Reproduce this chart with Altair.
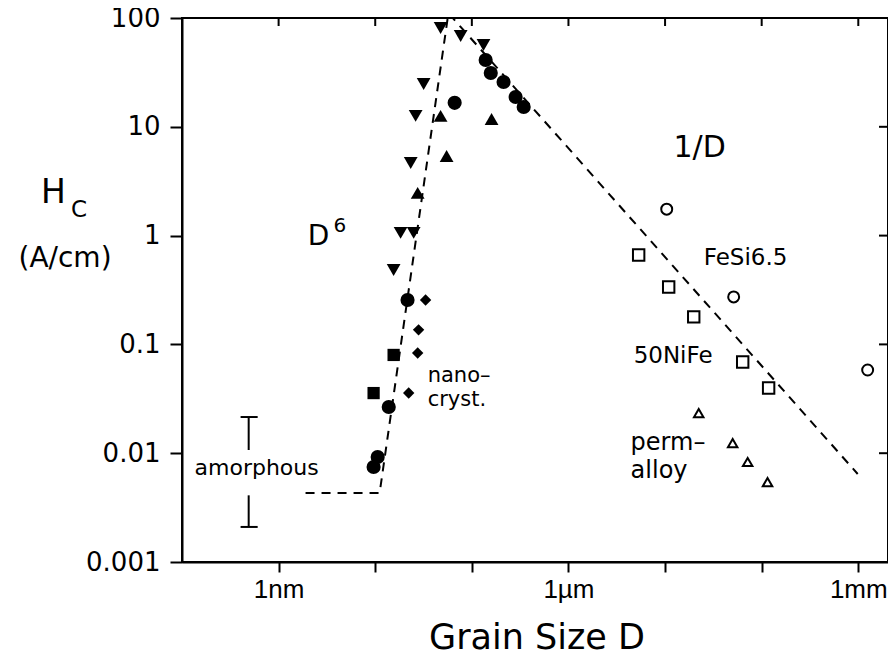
import altair as alt
import pandas as pd

# ---------------- data (grain size D in nm, coercivity Hc in A/cm) ----------------
tri_down_D = [47.5, 76.6, 132, 31.7, 26.2, 23.3, 18.3, 25.0, 15.5]
tri_down_H = [80.9, 68.4, 56.5, 24.7, 12.6, 4.65, 1.06, 1.06, 0.483]

circle_D = [139, 157, 213, 284, 344, 66.4, 21.6, 13.8, 10.6, 9.62]
circle_H = [41.1, 31.2, 25.8, 18.8, 15.2, 16.6, 0.256, 0.0266, 0.00923, 0.00746]

tri_up_D = [47.5, 160, 54.8, 27.5]
tri_up_H = [12.6, 11.8, 5.4, 2.47]

square_D = [15.5, 9.62]
square_H = [0.080, 0.0357]

diamond_D = [33.2, 28.1, 27.5, 22.2]
diamond_H = [0.256, 0.136, 0.0834, 0.0357]

fesi_D = [10400, 51300, 1.25e6]
fesi_H = [1.75, 0.273, 0.0582]

nife_D = [5330, 10900, 19800, 63600, 118000]
nife_H = [0.664, 0.337, 0.179, 0.0689, 0.0397]

perm_D = [22300, 50100, 71600, 115000]
perm_H = [0.0234, 0.0124, 0.0083, 0.00543]

trend_D = [1.9, 11.1, 57.2, 986000]
trend_H = [0.0043, 0.0043, 111, 0.00644]

errbar_D = [0.49]
errbar_top = [0.0215, 0.0107]
errbar_bot = [0.0041, 0.0021]
cap_D = [0.404, 0.607]

x_tick_values = [1, 10, 100, 1e3, 1e4, 1e5, 1e6]
y_tick_values = [0.001, 0.01, 0.1, 1, 10, 100]
right_tick_values = [10, 1, 0.1, 0.01]

# annotations inside the plot: text, D, Hc
ann_left_text = ["FeSi6.5", "50NiFe", "perm\u2013", "alloy", "nano\u2013", "cryst.", "D"]
ann_left_D = [25100, 4730, 4400, 4400, 34.9, 34.9, 2.0]
ann_left_H = [0.537, 0.0675, 0.01069, 0.00592, 0.0450, 0.0274, 0.82]

# ---------------- layout ----------------
W, H = 706, 544
FONT = "DejaVu Sans"

xscale = alt.Scale(type="log", domain=[0.1, 2.03e6], nice=False)
yscale = alt.Scale(type="log", domain=[0.001, 100], nice=False)

xaxis = alt.Axis(
    values=x_tick_values,
    labelExpr="datum.value == 1 ? '1nm' : datum.value == 1000 ? '1\u00b5m' : datum.value == 1000000 ? '1mm' : ''",
    tickSize=10, tickWidth=2, tickColor="black",
    domainWidth=2, domainColor="black",
    labelFont="Liberation Sans", labelFontSize=26, labelColor="black", labelPadding=4,
    labelOverlap=False, labelFlush=False, grid=False, title=None,
)
yaxis = alt.Axis(
    values=y_tick_values, format="~g",
    tickSize=12, tickWidth=2, tickColor="black",
    domainWidth=2, domainColor="black",
    labelFont=FONT, labelFontSize=26, labelColor="black", labelPadding=10,
    labelOverlap=False, labelFlush=False, grid=False, title=None,
)


def X(field="D"):
    return alt.X(f"{field}:Q", scale=xscale, axis=xaxis)


def Y(field="H"):
    return alt.Y(f"{field}:Q", scale=yscale, axis=yaxis)


def pts(D, Hs, shape, filled, size, sw=0):
    df = pd.DataFrame({"D": D, "H": Hs})
    if filled:
        m = alt.Chart(df).mark_point(shape=shape, filled=True, fill="black",
                                     stroke="black", strokeWidth=sw, size=size, opacity=1)
    else:
        m = alt.Chart(df).mark_point(shape=shape, filled=False, stroke="black",
                                     strokeWidth=2, size=size, opacity=1)
    return m.encode(x=X(), y=Y())


trend = alt.Chart(pd.DataFrame({"D": trend_D, "H": trend_H})).mark_line(
    color="black", strokeWidth=2, strokeDash=[9, 7], clip=True
).encode(x=X(), y=Y())

err_df = pd.DataFrame({"D": errbar_D * 2, "H": [errbar_top[0], errbar_bot[0]],
                       "H2": [errbar_top[1], errbar_bot[1]]})
err = alt.Chart(err_df).mark_rule(color="black", strokeWidth=2).encode(
    x=X(), y=Y(), y2="H2:Q")
cap_df = pd.DataFrame({"D": [cap_D[0], cap_D[0]], "D2": [cap_D[1], cap_D[1]],
                       "H": [errbar_top[0], errbar_bot[1]]})
caps = alt.Chart(cap_df).mark_rule(color="black", strokeWidth=2).encode(
    x=X(), x2="D2:Q", y=Y())

top_ticks = alt.Chart(pd.DataFrame({"D": x_tick_values})).mark_rule(
    color="black", strokeWidth=2).encode(x=X(), y=alt.value(0), y2=alt.value(8))
right_ticks = alt.Chart(pd.DataFrame({"H": right_tick_values})).mark_rule(
    color="black", strokeWidth=2).encode(y=Y(), x=alt.value(W), x2=alt.value(W - 9))


def ann(text, D, Hc, size, align="left"):
    return alt.Chart(pd.DataFrame({"D": [D], "H": [Hc], "t": [text]})).mark_text(
        font=FONT, fontSize=size, align=align, baseline="alphabetic", color="black"
    ).encode(x=X(), y=Y(), text="t:N")


ann_sizes = [23, 23, 24, 24, 21, 21, 28]
annotations = [ann(t, d, h, s) for t, d, h, s in
               zip(ann_left_text, ann_left_D, ann_left_H, ann_sizes)]
annotations.append(ann("1/D", 22800, 5.27, 30, "center"))
annotations.append(ann("amorphous", 0.592, 0.0063, 22, "center"))
annotations.append(ann("6", 3.71, 1.08, 20))


def outside(text, x, y, size, align="left"):
    return alt.Chart(alt.Data(values=[{}])).mark_text(
        font=FONT, fontSize=size, align=align, baseline="alphabetic", color="black"
    ).encode(x=alt.value(x), y=alt.value(y), text=alt.value(text))


outs = [
    outside("H", -141, 185, 33),
    outside("C", -111, 199, 23),
    outside("(A/cm)", -117, 249, 28, "center"),
    outside("Grain Size D", 355, 631, 35, "center"),
]

layers = [trend, err, caps, top_ticks, right_ticks,
          pts(tri_down_D, tri_down_H, "triangle-down", True, 190),
          pts(circle_D, circle_H, "circle", True, 200),
          pts(tri_up_D, tri_up_H, "triangle-up", True, 190),
          pts(square_D, square_H, "square", True, 150),
          pts(diamond_D, diamond_H, "diamond", True, 130),
          pts(fesi_D, fesi_H, "circle", False, 120),
          pts(nife_D, nife_H, "square", False, 130),
          pts(perm_D, perm_H, "triangle-up", False, 90),
          ] + annotations + outs

chart = alt.layer(*layers).properties(
    width=W, height=H,
    autosize=alt.AutoSizeParams(type="none"),
    padding={"left": 174, "top": 10, "right": 0, "bottom": 98},
    background="white",
).configure_view(stroke="black", strokeWidth=2)

chart.save("out.html", embed_options={"renderer": "svg", "actions": False})
